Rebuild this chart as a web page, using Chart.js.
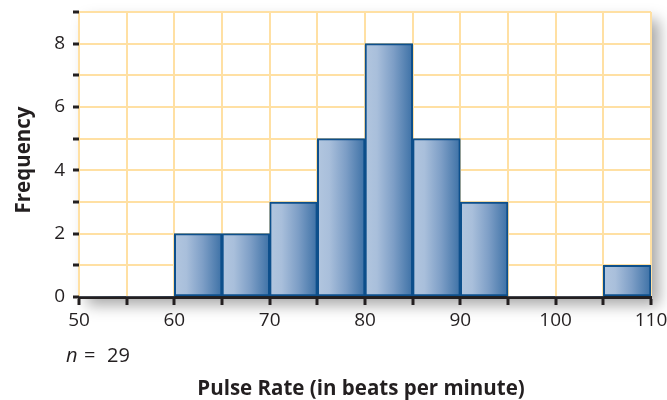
<!DOCTYPE html>
<html>
<head>
<meta charset="utf-8">
<script src="https://cdn.jsdelivr.net/npm/chart.js@4"></script>
<style>
html,body{margin:0;padding:0;background:#fff;}
#wrap{width:667px;height:400px;}
</style>
</head>
<body>
<div id="wrap"><canvas id="c" width="667" height="400"></canvas></div>
<script>
// Histogram bins (lower edges) and frequencies
const binStarts = [50, 55, 60, 65, 70, 75, 80, 85, 90, 95, 100, 105];
const binWidth = 5;
const frequencies = [0, 0, 2, 2, 3, 5, 8, 5, 3, 0, 0, 1];
const xTickLabels = [50, 60, 70, 80, 90, 100, 110];
const yTickLabels = [0, 2, 4, 6, 8];
const xTitle = 'Pulse Rate (in beats per minute)';
const yTitle = 'Frequency';
const sampleSize = 29;

const FONT = "'Open Sans', 'DejaVu Sans', sans-serif";
const TEXT = '#231f20';

const barGradient = (ctx) => {
  const chart = ctx.chart;
  if (!chart.chartArea) return '#7f9fc6';
  const i = ctx.dataIndex;
  const xs = chart.scales.x;
  const x0 = xs.getPixelForValue(binStarts[i]);
  const x1 = xs.getPixelForValue(binStarts[i] + binWidth);
  const g = chart.ctx.createLinearGradient(x0, 0, x1, 0);
  g.addColorStop(0, '#b2c6df');
  g.addColorStop(0.25, '#a9bfdb');
  g.addColorStop(0.6, '#7d9ec6');
  g.addColorStop(1, '#3d71a6');
  return g;
};

const shadowPlugin = {
  id: 'shadowBox',
  beforeDraw(chart) {
    const {ctx, chartArea: a} = chart;
    ctx.save();
    ctx.fillStyle = '#fff';
    ctx.shadowColor = 'rgba(0,0,0,0.35)';
    ctx.shadowBlur = 14;
    ctx.shadowOffsetX = 8;
    ctx.shadowOffsetY = 8;
    ctx.fillRect(a.left, a.top, a.right - a.left, a.bottom - a.top);
    ctx.restore();
  },
  afterDraw(chart) {
    const {ctx} = chart;
    ctx.save();
    ctx.fillStyle = TEXT;
    ctx.font = "bold 20.5px " + FONT;
    ctx.textAlign = 'center';
    ctx.textBaseline = 'alphabetic';
    ctx.fillText(xTitle, 361, 395);
    ctx.save();
    ctx.translate(30, 160);
    ctx.rotate(-Math.PI / 2);
    ctx.fillText(yTitle, 0, 0);
    ctx.restore();
    ctx.textAlign = 'left';
    ctx.font = "italic 20px " + FONT;
    ctx.fillText('n', 66, 362);
    ctx.font = "20px " + FONT;
    ctx.fillText('=', 84, 362);
    ctx.fillText(String(sampleSize), 107, 362);
    ctx.restore();
  }
};

new Chart(document.getElementById('c'), {
  type: 'bar',
  data: {
    datasets: [{
      data: binStarts.map((s, i) => ({x: s + binWidth / 2, y: frequencies[i]})),
      backgroundColor: barGradient,
      borderColor: '#0d4f8b',
      borderWidth: (ctx) => (frequencies[ctx.dataIndex] === 0 ? 0 : 2),
      borderSkipped: false,
      barPercentage: 1,
      categoryPercentage: 1,
      grouped: false
    }]
  },
  options: {
    responsive: false,
    animation: false,
    layout: {padding: {left: 0, right: 16, top: 12, bottom: 0}},
    plugins: {legend: {display: false}, tooltip: {enabled: false}},
    scales: {
      x: {
        type: 'linear',
        min: 50,
        max: 110,
        offset: false,
        ticks: {
          stepSize: 5,
          autoSkip: false,
          maxRotation: 0,
          padding: 4,
          color: TEXT,
          font: {family: FONT, size: 19},
          callback: (v) => (xTickLabels.includes(v) ? String(v) : '')
        },
        grid: {
          offset: false,
          color: '#ffe0a3',
          lineWidth: 2,
          tickColor: '#231f20',
          tickLength: 8,
          tickWidth: 3
        },
        border: {display: true, color: '#231f20', width: 3},
        afterFit: (s) => { s.height = 103; s.paddingLeft = 0; s.paddingRight = 0; }
      },
      y: {
        min: 0,
        max: 9,
        ticks: {
          stepSize: 1,
          autoSkip: false,
          padding: 8,
          color: TEXT,
          font: {family: FONT, size: 19},
          callback: (v) => (yTickLabels.includes(v) ? String(v) : '')
        },
        grid: {
          color: '#ffe0a3',
          lineWidth: 2,
          tickColor: '#231f20',
          tickLength: 6,
          tickWidth: 3
        },
        border: {display: false},
        afterFit: (s) => { s.width = 79; s.paddingTop = 0; s.paddingBottom = 0; }
      }
    }
  },
  plugins: [shadowPlugin]
});
</script>
</body>
</html>
